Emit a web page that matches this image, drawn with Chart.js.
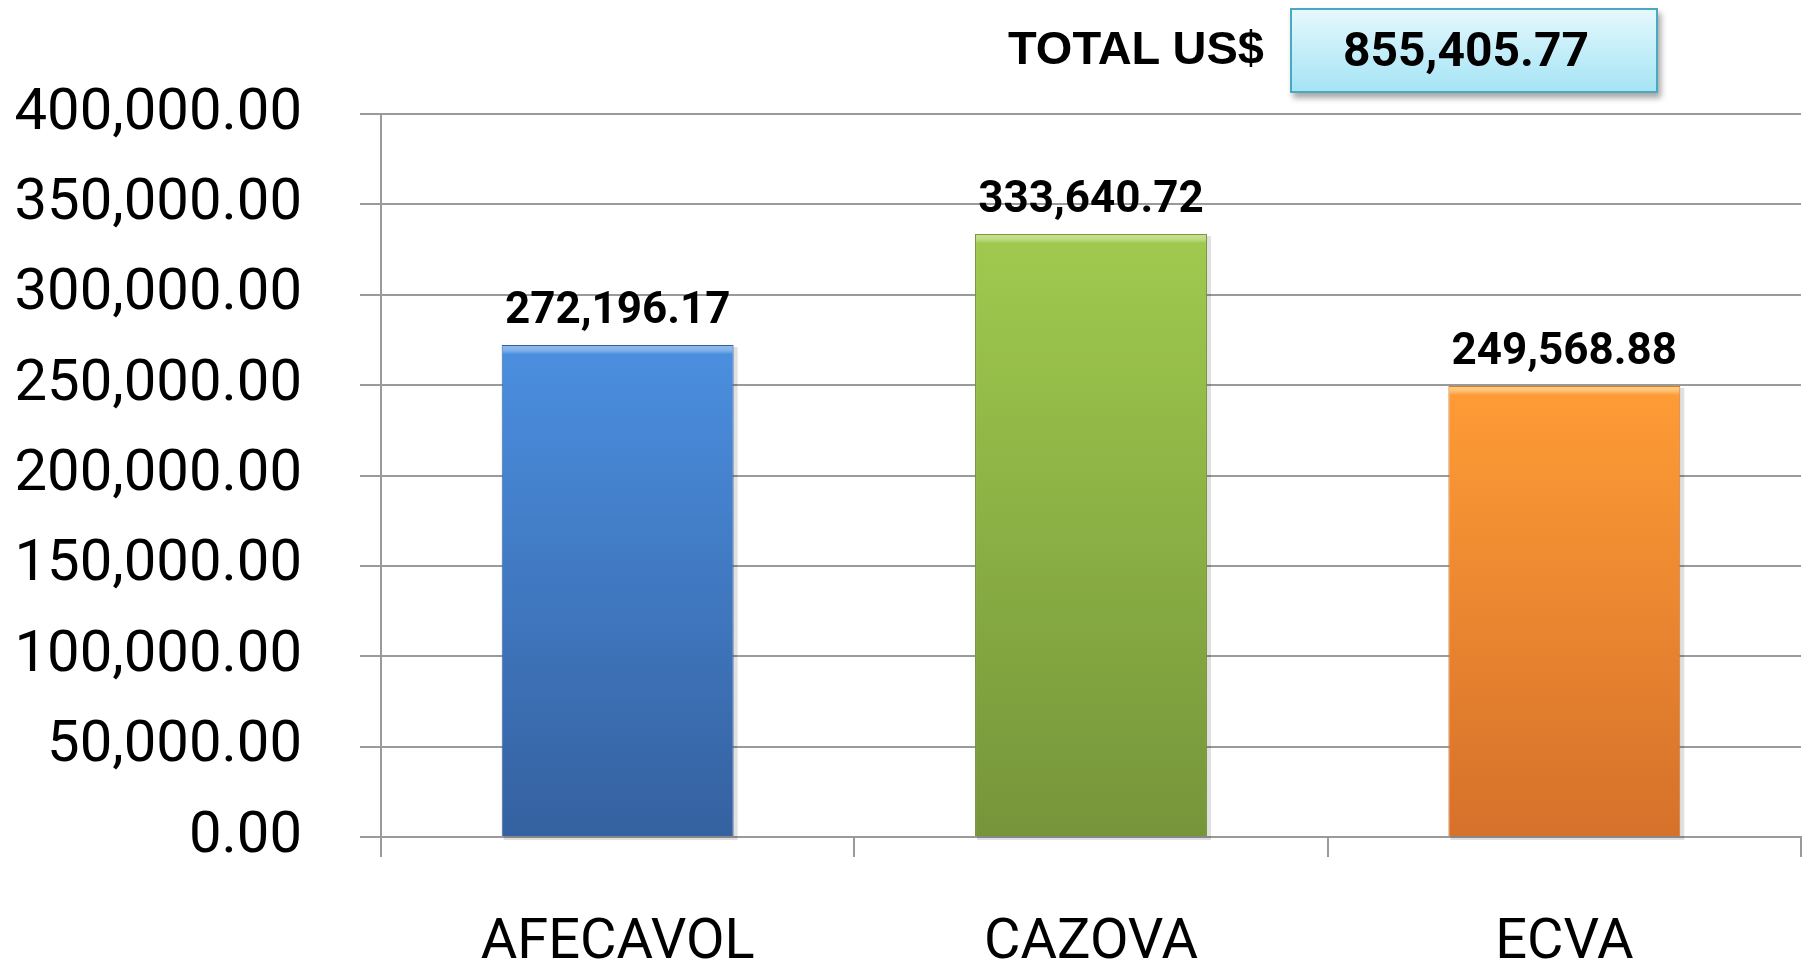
<!DOCTYPE html>
<html>
<head>
<meta charset="utf-8">
<script src="https://cdn.jsdelivr.net/npm/chart.js@4.4.0/dist/chart.umd.min.js"></script>
<style>
  html, body { margin: 0; padding: 0; background: #ffffff; }
  #wrap { position: relative; width: 1810px; height: 964px; overflow: hidden; }
  #chart { position: absolute; left: 0; top: 0; }
  #totalLabel {
    position: absolute; left: 1008px; top: 6px; height: 83px; line-height: 83px;
    font-family: "Liberation Sans", Arial, sans-serif; font-weight: bold; font-size: 47px; color: #000;
  }
  #totalBox {
    position: absolute; left: 1290px; top: 8px; width: 348px; padding-right: 16px; height: 81px;
    border: 2px solid #4aa8c0;
    background: linear-gradient(to bottom, #e6f8fd 0%, #c4eef9 50%, #a6e4f5 100%);
    box-shadow: 3px 5px 6px rgba(0,0,0,0.35);
    font-family: Roboto, "Open Sans", sans-serif; font-weight: bold; font-size: 48px; color: #000;
    line-height: 79px; text-align: center; box-sizing: content-box;
  }
</style>
</head>
<body>
<div id="wrap">
  <canvas id="chart" width="1810" height="964"></canvas>
  <div id="totalLabel">TOTAL US$</div>
  <div id="totalBox"></div>
</div>
<script>
// ---- data ----
const categories = ['AFECAVOL', 'CAZOVA', 'ECVA'];
const values = [272196.17, 333640.72, 249568.88];
const yMin = 0;
const yMax = 400000;
const yStep = 50000;
const totalLabel = 'TOTAL US$';

// ---- styles ----
const barTopColors = ['#4b8fe0', '#9fca4e', '#ff9c36'];
const barBottomColors = ['#3561a0', '#76953a', '#d5712a'];
const barHighlight = ['#7fb2ef', '#c2e07c', '#ffd066'];

const fmt = new Intl.NumberFormat('en-US', { minimumFractionDigits: 2, maximumFractionDigits: 2 });

document.getElementById('totalLabel').textContent = totalLabel;
document.getElementById('totalBox').textContent = fmt.format(values.reduce((a, b) => a + b, 0));

const barGradient = {
  id: 'barGradient',
  beforeDatasetsDraw(chart) {
    const ctx = chart.ctx;
    chart.getDatasetMeta(0).data.forEach((bar, i) => {
      const g = ctx.createLinearGradient(0, bar.y, 0, bar.base);
      g.addColorStop(0, barTopColors[i]);
      g.addColorStop(1, barBottomColors[i]);
      bar.options.backgroundColor = g;
      ctx.save();
      ctx.fillStyle = 'rgba(0,0,0,0.12)';
      ctx.fillRect(bar.x - bar.width / 2 + 2, bar.y + 2, bar.width + 2, bar.base - bar.y + 2);
      ctx.restore();
    });
  },
  afterDatasetsDraw(chart) {
    const ctx = chart.ctx;
    chart.getDatasetMeta(0).data.forEach((bar, i) => {
      const left = bar.x - bar.width / 2;
      ctx.save();
      const h = ctx.createLinearGradient(0, bar.y, 0, bar.y + 9);
      h.addColorStop(0, barHighlight[i]);
      h.addColorStop(1, 'rgba(255,255,255,0)');
      ctx.fillStyle = h;
      ctx.fillRect(left + 1, bar.y + 1, bar.width - 2, 9);
      ctx.restore();
    });
  }
};

const dataLabels = {
  id: 'dataLabels',
  afterDatasetsDraw(chart) {
    const ctx = chart.ctx;
    ctx.save();
    ctx.font = 'bold 44px Roboto, "Open Sans", sans-serif';
    ctx.fillStyle = '#000';
    ctx.textAlign = 'center';
    ctx.textBaseline = 'middle';
    chart.getDatasetMeta(0).data.forEach((bar, i) => {
      ctx.fillText(fmt.format(values[i]), bar.x, bar.y - 33);
    });
    ctx.restore();
  }
};

new Chart(document.getElementById('chart'), {
  type: 'bar',
  data: {
    labels: categories,
    datasets: [{
      data: values,
      backgroundColor: barTopColors,
      borderColor: barBottomColors,
      borderWidth: 1,
      categoryPercentage: 1.0,
      barPercentage: 0.49
    }]
  },
  options: {
    responsive: false,
    animation: false,
    devicePixelRatio: 1,
    layout: { padding: { top: 114, right: 9, left: 0, bottom: 0 } },
    plugins: { legend: { display: false }, tooltip: { enabled: false }, title: { display: false } },
    scales: {
      x: {
        grid: { display: true, drawOnChartArea: false, drawTicks: true, tickLength: 20, color: '#9a9a9a', lineWidth: 2, offset: true },
        border: { display: true, color: '#9a9a9a', width: 2 },
        ticks: { font: { family: 'Roboto', size: 56 }, color: '#000', padding: 53 },
        afterFit(s) { s.height = 127; }
      },
      y: {
        min: yMin, max: yMax,
        ticks: { stepSize: yStep, font: { family: 'Roboto', size: 58 }, color: '#000', padding: 58,
                 callback: v => fmt.format(v) },
        grid: { color: '#9a9a9a', lineWidth: 2, tickLength: 21 },
        border: { display: true, color: '#9a9a9a', width: 2 },
        afterFit(s) { s.width = 381; }
      }
    }
  },
  plugins: [barGradient, dataLabels]
});
</script>
</body>
</html>
